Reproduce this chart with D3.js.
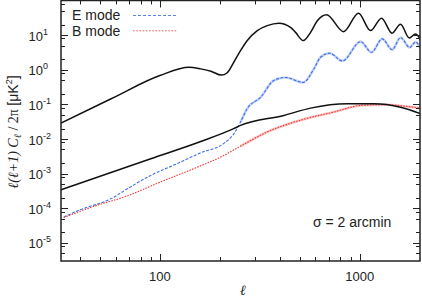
<!DOCTYPE html>
<html>
<head>
<meta charset="utf-8">
<script src="https://cdn.jsdelivr.net/npm/d3@7"></script>
<style>
  body { margin: 0; background: #fff; }
  svg { display: block; }
</style>
</head>
<body>
<svg id="chart" width="422" height="305"></svg>
<script>
// theory E mode (black, upper)
const eeTheoryEll = [32, 57, 100, 140, 160, 180, 203, 217, 234, 253, 273, 307, 344, 394, 450, 477, 521, 567, 613, 682, 829, 985, 1131, 1284, 1449, 1598, 1766, 1899, 2012];
const eeTheoryVal = [0.029, 0.145, 0.68, 1.18, 1.06, 0.91, 0.70, 0.82, 1.64, 3.57, 6.9, 13.5, 18.8, 22.2, 16.8, 12, 6.95, 12, 26, 38.9, 12.6, 43, 13.5, 30.9, 11.4, 20.7, 8.3, 10.8, 7.4];

// theory B mode (black, lower)
const bbTheoryEll = [32, 90, 160, 234, 253, 417, 567, 865, 1175, 1598, 2012];
const bbTheoryVal = [3.4e-4, 2.7e-3, 8.5e-3, 0.020, 0.0247, 0.048, 0.078, 0.104, 0.104, 0.083, 0.054];

// measured E mode (blue)
const eModeEll = [33, 40, 57, 69, 90, 122, 160, 209, 234, 253, 273, 319, 371, 425, 521, 589, 636, 706, 819, 1008, 1144, 1294, 1452, 1598, 1778, 1899, 2012];
const eModeVal = [5.6e-5, 9.1e-5, 1.9e-4, 3.7e-4, 8.9e-4, 1.95e-3, 4.0e-3, 7.5e-3, 0.014, 0.031, 0.075, 0.16, 0.49, 0.6, 0.43, 1.06, 2.3, 3.0, 1.8, 6.5, 3.2, 7.8, 3.8, 8.5, 4.4, 6.3, 4.2];

// measured B mode (red)
const bModeEll = [33, 47, 69, 101, 148, 201, 253, 344, 505, 741, 1008, 1318, 1726, 2012];
const bModeVal = [5.4e-5, 1.15e-4, 2.3e-4, 5.8e-4, 1.4e-3, 3.0e-3, 6.2e-3, 0.016, 0.035, 0.060, 0.093, 0.098, 0.087, 0.078];

const xMajor = [100, 1000];
const xMinor = [40, 50, 60, 70, 80, 90, 200, 300, 400, 500, 600, 700, 800, 900];
const yExponents = [-5, -4, -3, -2, -1, 0, 1];
const yMinorMult = [2, 5, 8];

const legendItems = [
    { label: 'E mode', color: '#5a82ea', dash: '3,2' },
    { label: 'B mode', color: '#f25a5a', dash: '1.6,1.6' }
];

const plotLeft = 61, plotRight = 420, plotTop = 0.5, plotBottom = 261;
const svg = d3.select('#chart');

const x = d3.scaleLog().domain([32, 2000]).range([plotLeft, plotRight]);
const y = d3.scaleLog().domain([3e-6, 100]).range([plotBottom, plotTop]);

svg.append('defs').append('clipPath').attr('id', 'plotClip')
    .append('rect')
    .attr('x', plotLeft).attr('y', plotTop)
    .attr('width', plotRight - plotLeft).attr('height', plotBottom - plotTop);

const line = d3.line()
    .x(d => x(d[0]))
    .y(d => y(d[1]))
    .curve(d3.curveMonotoneX);

function pairs(ells, vals) {
    return ells.map((l, i) => [l, vals[i]]);
}

const plot = svg.append('g').attr('clip-path', 'url(#plotClip)');

function drawMeasured(ells, vals, color, dash) {
    const d = pairs(ells, vals);
    // faint band where the measurement gets noisy (high ell)
    plot.append('path')
        .attr('d', line(d.filter(p => p[0] >= 250)))
        .attr('fill', 'none')
        .attr('stroke', color)
        .attr('stroke-opacity', 0.3)
        .attr('stroke-width', 2.6);
    plot.append('path')
        .attr('d', line(d))
        .attr('fill', 'none')
        .attr('stroke', color)
        .attr('stroke-width', 1.1)
        .attr('stroke-dasharray', dash);
}
drawMeasured(eModeEll, eModeVal, '#3f6ee6', '3,1.5');
drawMeasured(bModeEll, bModeVal, '#f03a3a', '1.6,1.2');

// theory curves
[pairs(eeTheoryEll, eeTheoryVal), pairs(bbTheoryEll, bbTheoryVal)].forEach(d => {
    plot.append('path')
        .attr('d', line(d))
        .attr('fill', 'none')
        .attr('stroke', '#111')
        .attr('stroke-width', 1.5);
});

// ticks on all four sides, pointing inward
const ticks = svg.append('g').attr('stroke', '#222').attr('stroke-width', 1);
function xTick(v, len) {
    const px = Math.round(x(v)) + 0.5;
    ticks.append('line').attr('x1', px).attr('x2', px).attr('y1', plotBottom).attr('y2', plotBottom - len);
    ticks.append('line').attr('x1', px).attr('x2', px).attr('y1', plotTop).attr('y2', plotTop + len);
}
function yTick(v, len) {
    const py = Math.round(y(v)) + 0.5;
    ticks.append('line').attr('x1', plotLeft).attr('x2', plotLeft + len).attr('y1', py).attr('y2', py);
    ticks.append('line').attr('x1', plotRight).attr('x2', plotRight - len).attr('y1', py).attr('y2', py);
}
xMajor.forEach(v => xTick(v, 7));
xMinor.forEach(v => xTick(v, 4));
yExponents.forEach(e => yTick(Math.pow(10, e), 7));
[-6, -5, -4, -3, -2, -1, 0, 1].forEach(e => {
    yMinorMult.forEach(m => {
        const v = m * Math.pow(10, e);
        if (v > 3e-6 && v < 100) yTick(v, 4);
    });
});

// frame
svg.append('rect')
    .attr('x', plotLeft).attr('y', plotTop)
    .attr('width', plotRight - plotLeft).attr('height', plotBottom - plotTop)
    .attr('fill', 'none')
    .attr('stroke', '#222')
    .attr('stroke-width', 1.5);

const sans = '"Liberation Sans", Arial, sans-serif';
const serif = '"Liberation Serif", "DejaVu Serif", serif';

// x tick labels
svg.append('g').selectAll('text')
    .data(xMajor)
    .join('text')
    .attr('x', d => x(d))
    .attr('y', 281)
    .attr('text-anchor', 'middle')
    .attr('font-family', sans)
    .attr('font-size', 13)
    .attr('fill', '#222')
    .text(d => d);

// y tick labels, 10 with superscript exponent
const yLab = svg.append('g').selectAll('text')
    .data(yExponents)
    .join('text')
    .attr('x', 28.5)
    .attr('y', d => y(Math.pow(10, d)) + 5.5)
    .attr('font-family', sans)
    .attr('font-size', 13)
    .attr('fill', '#222');
yLab.append('tspan').text('10');
yLab.append('tspan').attr('dy', -6).attr('font-size', 9).text(d => d < 0 ? '-' + (-d) : d);

// axis titles
svg.append('text')
    .attr('x', 243).attr('y', 295)
    .attr('text-anchor', 'middle')
    .attr('font-family', serif)
    .attr('font-style', 'italic')
    .attr('font-size', 14)
    .attr('fill', '#222')
    .text('ℓ');

const yTitle = svg.append('text')
    .attr('transform', 'translate(17.5,132) rotate(-90)')
    .attr('text-anchor', 'middle')
    .attr('font-size', 14)
    .attr('fill', '#222');
yTitle.append('tspan').attr('font-family', serif).attr('font-style', 'italic').text('ℓ(ℓ+1) C');
yTitle.append('tspan').attr('font-family', serif).attr('font-style', 'italic').attr('font-size', 10).attr('dy', 3).text('ℓ');
yTitle.append('tspan').attr('font-family', serif).attr('dy', -3).text(' / 2π ');
yTitle.append('tspan').attr('font-family', sans).text('[μK');
yTitle.append('tspan').attr('font-family', sans).attr('font-size', 9).attr('dy', -6).text('2');
yTitle.append('tspan').attr('font-family', sans).attr('dy', 6).text(']');

// legend
const legend = svg.append('g');
legendItems.forEach((item, i) => {
    const ly = 15.5 + i * 15.3;
    legend.append('text')
        .attr('x', 72).attr('y', ly + 4.8)
        .attr('font-family', sans)
        .attr('font-size', 14)
        .attr('fill', '#222')
        .text(item.label);
    legend.append('line')
        .attr('x1', 133).attr('x2', 177)
        .attr('y1', ly).attr('y2', ly)
        .attr('stroke', item.color)
        .attr('stroke-width', 1)
        .attr('stroke-dasharray', item.dash);
});

// annotation
svg.append('text')
    .attr('x', 313).attr('y', 227)
    .attr('font-family', sans)
    .attr('font-size', 14)
    .attr('fill', '#222')
    .text('σ = 2 arcmin');
</script>
</body>
</html>
